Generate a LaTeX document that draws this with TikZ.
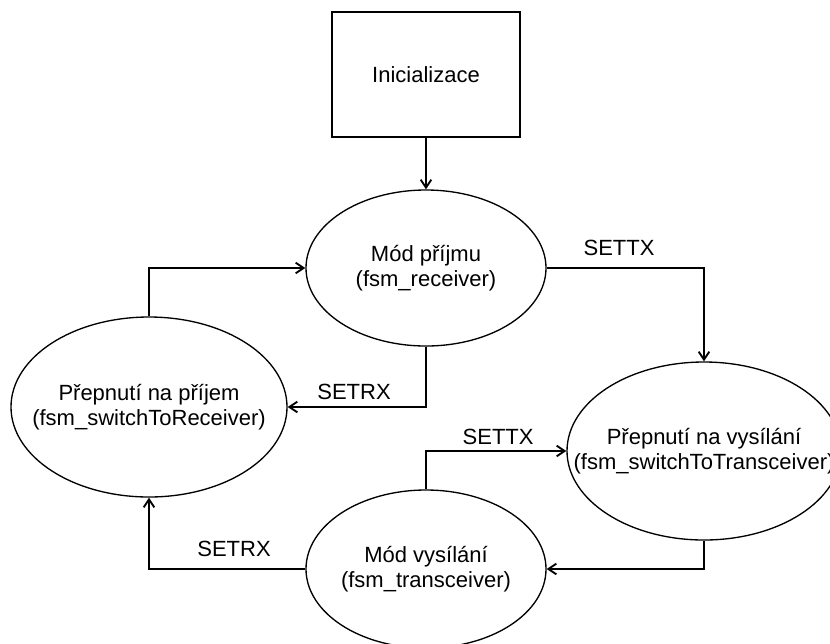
\documentclass[tikz,border=0pt]{standalone}
\usepackage{fontspec}
\setmainfont{Liberation Sans}
\usetikzlibrary{shapes.geometric,arrows.meta}

\tikzset{every picture/.style={line width=1pt}}
\tikzset{
  stfont/.style={font=\fontsize{16.5}{19}\selectfont},
  initbox/.style={draw, rectangle, inner sep=0pt, stfont},
  state/.style={draw, ellipse, inner sep=0pt},
  txt/.style={stfont, align=center, inner sep=0pt},
  conn/.style={-{Straight Barb[length=6pt,width=8pt,line width=1.4pt]}},
  lbl/.style={stfont, anchor=south, inner xsep=0pt, inner ysep=#1},
  lbl/.default=5pt
}

\begin{document}
\begin{tikzpicture}[x=0.75pt,y=0.75pt,yscale=-1,xscale=1]
\path[use as bounding box, clip] (0,0) rectangle (830,643);

%Shape: Rectangle [id:init]
\node[initbox, minimum width=141pt, minimum height=93.75pt] (init) at (426,74.5) {Inicializace};

%Shape: Ellipse [id:rx]
\node[state, minimum width=180pt, minimum height=117pt,
  label={[txt]center:{Mód příjmu\\(fsm\_receiver)}}] (rx) at (426,268) {};
%Shape: Ellipse [id:swrx]
\node[state, minimum width=207pt, minimum height=135pt,
  label={[txt]center:{Přepnutí na příjem\\(fsm\_switchToReceiver)}}] (swrx) at (149,407) {};
%Shape: Ellipse [id:swtx]
\node[state, minimum width=205.5pt, minimum height=133.5pt,
  label={[txt]center:{Přepnutí na vysílání\\(fsm\_switchToTransceiver)}}] (swtx) at (704,451) {};
%Shape: Ellipse [id:tx]
\node[state, minimum width=180pt, minimum height=118.5pt,
  label={[txt]center:{Mód vysílání\\(fsm\_transceiver)}}] (tx) at (426,569) {};

%Connectors
\draw[conn] (init) -- (rx);
\draw[conn] (rx.east) -| node[lbl=8.8pt, pos=0.23] {SETTX} (swtx.north);
\draw[conn] (rx.south) |- node[lbl=5.2pt, pos=0.76] {SETRX} (swrx.east);
\draw[conn] (tx.north) |- node[lbl=4.5pt, pos=0.757] {SETTX} (swtx.west);
\draw[conn] (swtx.south) |- (tx.east);
\draw[conn] (tx.west) -| node[lbl=9pt, pos=0.228] {SETRX} (swrx.south);
\draw[conn] (swrx.north) |- (rx.west);

\end{tikzpicture}
\end{document}
